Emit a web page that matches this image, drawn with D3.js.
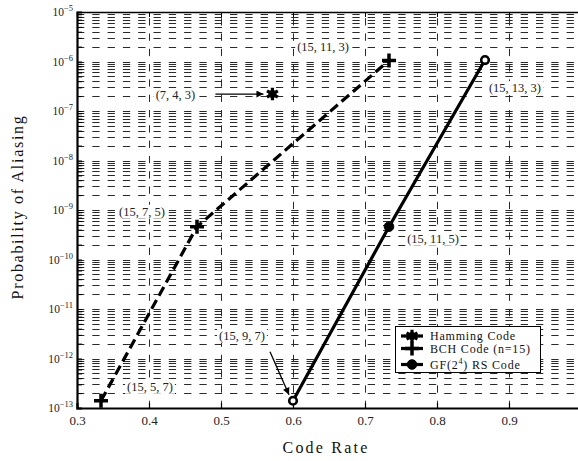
<!DOCTYPE html>
<html>
<head>
<meta charset="utf-8">
<script src="https://d3js.org/d3.v7.min.js"></script>
<style>
  body { margin: 0; background: #fff; }
  text { font-family: "Liberation Serif", "DejaVu Serif", serif; }
</style>
</head>
<body>
<div id="chart"></div>
<script>
// data
var hammingRate = [4 / 7];
var hammingProb = [2.2e-7];
var hammingCodes = ["(7, 4, 3)"];

var bchRate = [5 / 15, 7 / 15, 11 / 15];
var bchProb = [1.4e-13, 4.6e-10, 1.05e-6];
var bchCodes = ["(15, 5, 7)", "(15, 7, 5)", "(15, 11, 3)"];

var rsRate = [9 / 15, 11 / 15, 13 / 15];
var rsProb = [1.4e-13, 4.6e-10, 1.07e-6];
var rsCodes = ["(15, 9, 7)", "(15, 11, 5)", "(15, 13, 3)"];

var xTicks = [0.3, 0.4, 0.5, 0.6, 0.7, 0.8, 0.9, 1];
var yDecades = [-13, -12, -11, -10, -9, -8, -7, -6, -5];

var width = 578, height = 461;
var plotLeft = 77, plotRight = 581, plotTop = 12, plotBottom = 408;

var svg = d3.select("#chart").append("svg")
  .attr("width", width)
  .attr("height", height);

svg.append("rect").attr("width", width).attr("height", height).attr("fill", "#fff");

var defs = svg.append("defs");
defs.append("marker")
  .attr("id", "arrow")
  .attr("viewBox", "0 0 10 10")
  .attr("refX", 10).attr("refY", 5)
  .attr("markerWidth", 9).attr("markerHeight", 7)
  .attr("markerUnits", "userSpaceOnUse")
  .attr("orient", "auto")
  .append("path").attr("d", "M0,0 L10,5 L0,10 Z").attr("fill", "#000");

var x = d3.scaleLinear().domain([0.3, 1]).range([plotLeft, plotRight]);
var y = d3.scaleLog().domain([1e-13, 1e-5]).range([plotBottom, plotTop]);

// all log grid values: 1..9 x 10^d
var yGridVals = [];
yDecades.forEach(function(d) {
  if (d === -5) { yGridVals.push(1e-5); return; }
  for (var m = 1; m <= 9; m++) yGridVals.push(m * Math.pow(10, d));
});

// grid
var grid = svg.append("g").attr("stroke", "#2a2a2a").attr("stroke-width", 1)
  .attr("stroke-dasharray", "7.3,8").attr("fill", "none");
yGridVals.filter(function(v) { return v > 1e-13 * 1.01 && v < 1e-5 * 0.99; }).forEach(function(v) {
  var yy = Math.round(y(v)) + 0.5;
  grid.append("line").attr("x1", plotLeft).attr("x2", plotRight).attr("y1", yy).attr("y2", yy);
});
xTicks.filter(function(v) { return v > 0.3 && v < 1; }).forEach(function(v) {
  var xx = Math.round(x(v)) + 0.5;
  grid.append("line").attr("x1", xx).attr("x2", xx).attr("y1", plotBottom).attr("y2", plotTop);
});

// axes
var xAxis = svg.append("g").attr("transform", "translate(0," + plotBottom + ")")
  .call(d3.axisBottom(x).tickValues(xTicks).tickSize(-5).tickPadding(8)
    .tickFormat(function(d) { return d === 1 ? "1" : d3.format(".1f")(d); }));
xAxis.select(".domain").attr("stroke-width", 2.2);
xAxis.selectAll(".tick line").attr("stroke-width", 1.2);
xAxis.selectAll("text").attr("font-size", 13).attr("fill", "#222")
  .attr("font-family", "Liberation Serif");

var xTop = svg.append("g").attr("transform", "translate(0," + plotTop + ")")
  .call(d3.axisTop(x).tickValues(xTicks).tickSize(-5).tickFormat(""));
xTop.select(".domain").attr("stroke-width", 1.5);

var yAxis = svg.append("g").attr("transform", "translate(" + plotLeft + ",0)")
  .call(d3.axisLeft(y).tickValues(yGridVals).tickSize(-5).tickFormat(""));
yAxis.select(".domain").attr("stroke-width", 2.2);
yAxis.selectAll(".tick line").attr("stroke-width", 1);

// y tick labels 10^d
var yLab = svg.append("g");
yDecades.forEach(function(d) {
  var t = yLab.append("text")
    .attr("x", 73).attr("y", y(Math.pow(10, d)) + 4)
    .attr("text-anchor", "end").attr("fill", "#222").attr("font-size", 11.5);
  t.append("tspan").text("10");
  t.append("tspan").attr("dy", -5).attr("font-size", 8.5).text("\u2212" + (-d));
});

// lines
var line = d3.line().x(function(d) { return x(d[0]); }).y(function(d) { return y(d[1]); });
var bchPts = d3.zip(bchRate, bchProb);
var rsPts = d3.zip(rsRate, rsProb);
var hamPts = d3.zip(hammingRate, hammingProb);

svg.append("path").datum(bchPts).attr("d", line)
  .attr("fill", "none").attr("stroke", "#000").attr("stroke-width", 3.2)
  .attr("stroke-dasharray", "10,5");
svg.append("path").datum(rsPts).attr("d", line)
  .attr("fill", "none").attr("stroke", "#000").attr("stroke-width", 3.2);

// markers
function plus(g, cx, cy) {
  g.append("path").attr("d", "M" + (cx - 7) + "," + cy + "H" + (cx + 7) + "M" + cx + "," + (cy - 7) + "V" + (cy + 7))
    .attr("stroke", "#000").attr("stroke-width", 3.5).attr("fill", "none");
}
function star(g, cx, cy) {
  g.append("path").attr("d", d3.symbol(d3.symbolAsterisk, 110)())
    .attr("transform", "translate(" + cx + "," + cy + ")")
    .attr("stroke", "#000").attr("stroke-width", 3.2).attr("fill", "none");
  g.append("circle").attr("cx", cx).attr("cy", cy).attr("r", 4).attr("fill", "#000");
}
function dot(g, cx, cy, hollow) {
  g.append("circle").attr("cx", cx).attr("cy", cy).attr("r", hollow ? 3.8 : 4.8)
    .attr("fill", hollow ? "#fff" : "#000").attr("stroke", "#000").attr("stroke-width", hollow ? 2.6 : 1);
}

var mk = svg.append("g");
bchPts.forEach(function(p) { plus(mk, x(p[0]), y(p[1])); });
rsPts.forEach(function(p, i) { dot(mk, x(p[0]), y(p[1]), i !== 1); });
hamPts.forEach(function(p) { star(mk, x(p[0]), y(p[1])); });

// annotations: label offsets from the marked point, optional arrow
var notes = [
  { text: hammingCodes[0], pt: hamPts[0], dx: -97, dy: 1, arrow: [-57, 0, -9, 0] },
  { text: bchCodes[2], pt: bchPts[2], dx: -66, dy: -13 },
  { text: rsCodes[2], pt: rsPts[2], dx: 30, dy: 28 },
  { text: bchCodes[1], pt: bchPts[1], dx: -55, dy: -15 },
  { text: rsCodes[1], pt: rsPts[1], dx: 44, dy: 12 },
  { text: rsCodes[0], pt: rsPts[0], dx: -51, dy: -65, arrow: [-23, -49, -4, -6] },
  { text: bchCodes[0], pt: bchPts[0], dx: 49, dy: -14 }
];
var ann = svg.append("g");
notes.forEach(function(n) {
  var px = x(n.pt[0]), py = y(n.pt[1]);
  var g = ann.append("g");
  var bg = g.append("rect").attr("fill", "#fff");
  var t = g.append("text").attr("x", px + n.dx).attr("y", py + n.dy + 4)
    .attr("text-anchor", "middle").attr("font-size", 12.5).attr("fill", "#222").text(n.text);
  var bb = t.node().getBBox();
  bg.attr("x", bb.x - 2).attr("y", bb.y).attr("width", bb.width + 4).attr("height", bb.height);
  if (n.arrow) {
    ann.append("line")
      .attr("x1", px + n.arrow[0]).attr("y1", py + n.arrow[1])
      .attr("x2", px + n.arrow[2]).attr("y2", py + n.arrow[3])
      .attr("stroke", "#000").attr("stroke-width", 1.3)
      .attr("marker-end", "url(#arrow)");
  }
});

// legend
var legendItems = ["Hamming Code", "BCH Code (n=15)", "GF(2^4) RS Code"];
var lg = svg.append("g");
lg.append("rect").attr("x", 395.5).attr("y", 326.5).attr("width", 145).attr("height", 46)
  .attr("fill", "#fff").attr("stroke", "#000").attr("stroke-width", 1);
var rowY = [336, 348.5, 364.5];
legendItems.forEach(function(name, i) {
  var yy = rowY[i];
  lg.append("line").attr("x1", 401).attr("x2", 423).attr("y1", yy).attr("y2", yy)
    .attr("stroke", "#000").attr("stroke-width", 3.2);
  if (i === 0) star(lg, 412, yy);
  if (i === 1) plus(lg, 412, yy);
  if (i === 2) dot(lg, 412, yy, false);
  var t = lg.append("text").attr("x", 430).attr("y", yy + 4)
    .attr("font-size", 12).attr("fill", "#111").attr("letter-spacing", 0.8);
  if (name.indexOf("^") >= 0) {
    t.append("tspan").text("GF(2");
    t.append("tspan").attr("dy", -5).attr("font-size", 8).text("4");
    t.append("tspan").attr("dy", 5).text(") RS Code");
  } else {
    t.text(name);
  }
});

// axis titles
svg.append("text").attr("x", 326).attr("y", 453).attr("text-anchor", "middle")
  .attr("font-size", 16).attr("letter-spacing", 2.2).attr("fill", "#111").text("Code Rate");
svg.append("text").attr("transform", "translate(23,207) rotate(-90)").attr("text-anchor", "middle")
  .attr("font-size", 16).attr("letter-spacing", 1.7).attr("fill", "#111").text("Probability of Aliasing");
</script>
</body>
</html>
